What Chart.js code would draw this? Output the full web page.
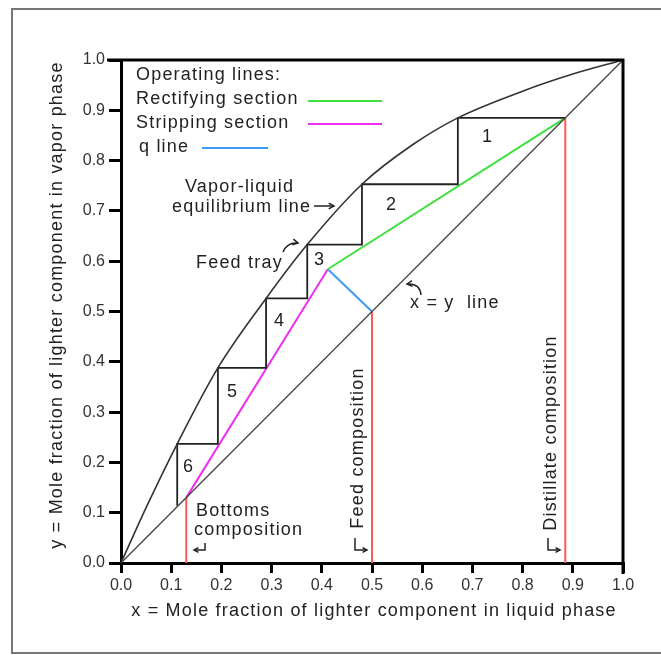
<!DOCTYPE html>
<html>
<head>
<meta charset="utf-8">
<script src="https://cdn.jsdelivr.net/npm/chart.js@4.4.1/dist/chart.umd.min.js"></script>
<style>
  html, body { margin: 0; padding: 0; background: #fff; }
  #wrap { width: 661px; height: 655px; }
</style>
</head>
<body>
<div id="wrap"><canvas id="myChart" width="661" height="655"></canvas></div>
<script>
// McCabe-Thiele diagram data (mole fractions)
const tickLabels = ['0.0', '0.1', '0.2', '0.3', '0.4', '0.5', '0.6', '0.7', '0.8', '0.9', '1.0'];

// vapor-liquid equilibrium curve
const eqX = [0, 0.05, 0.112, 0.193, 0.289, 0.371, 0.48, 0.58, 0.671, 0.8, 0.9, 1];
const eqY = [0, 0.11, 0.237, 0.388, 0.526, 0.633, 0.753, 0.831, 0.885, 0.938, 0.972, 1];

// x = y line
const diagX = [0, 1];
const diagY = [0, 1];

// compositions: bottoms, feed, distillate
const xBottoms = 0.13;
const xFeed = 0.5;
const xDistillate = 0.885;

// operating lines and q line (meet at the feed tray point)
const rectX = [0.412, 0.885];
const rectY = [0.584, 0.885];
const stripX = [0.13, 0.412];
const stripY = [0.13, 0.584];
const qX = [0.5, 0.412];
const qY = [0.5, 0.584];

// theoretical stages stepped off between the curve and the operating lines
const stepX = [0.885, 0.671, 0.671, 0.48, 0.48, 0.371, 0.371, 0.289, 0.289, 0.193, 0.193, 0.112, 0.112];
const stepY = [0.885, 0.885, 0.753, 0.753, 0.633, 0.633, 0.526, 0.526, 0.388, 0.388, 0.237, 0.237, 0.114];
const stageNames = ['1', '2', '3', '4', '5', '6'];

function pts(xs, ys) {
  return xs.map((x, i) => ({ x: x, y: ys[i] }));
}

function line(data, color, width, extra) {
  return Object.assign({
    data: data,
    showLine: true,
    borderColor: color,
    borderWidth: width,
    pointRadius: 0,
    fill: false
  }, extra || {});
}

const FONT = '"Liberation Sans", Arial, sans-serif';
const RED = '#ff5a5a';
const GREEN = '#3ee03e';
const MAGENTA = '#ee2ef0';
const BLUE = '#3c9cf5';

function arrowHead(ctx, x, y, angle, size) {
  ctx.beginPath();
  ctx.moveTo(x - size * Math.cos(angle - 0.5), y - size * Math.sin(angle - 0.5));
  ctx.lineTo(x, y);
  ctx.lineTo(x - size * Math.cos(angle + 0.5), y - size * Math.sin(angle + 0.5));
  ctx.stroke();
}

const notes = {
  id: 'notes',
  beforeDraw(chart) {
    const ctx = chart.ctx;
    ctx.save();
    ctx.fillStyle = '#fff';
    ctx.fillRect(0, 0, chart.width, chart.height);
    // outer frame
    ctx.strokeStyle = '#777';
    ctx.lineWidth = 2;
    ctx.strokeRect(12, 9, 700, 644);
    ctx.restore();
  },
  afterDraw(chart) {
    const ctx = chart.ctx;
    const a = chart.chartArea;
    ctx.save();
    // close the box on the top and right
    ctx.strokeStyle = '#000';
    ctx.lineWidth = 3;
    ctx.beginPath();
    ctx.moveTo(a.left - 14, a.top);
    ctx.lineTo(a.right, a.top);
    ctx.lineTo(a.right, a.bottom + 11);
    ctx.stroke();

    ctx.fillStyle = '#222';
    ctx.letterSpacing = '1.2px';
    ctx.font = '18px ' + FONT;
    ctx.textBaseline = 'middle';
    ctx.textAlign = 'left';

    // axis titles
    ctx.textAlign = 'center';
    ctx.fillText('x = Mole fraction of lighter component in liquid phase', 374, 611);
    ctx.save();
    ctx.translate(57, 305);
    ctx.rotate(-Math.PI / 2);
    ctx.fillText('y = Mole fraction of lighter component in vapor phase', 0, 0);
    ctx.restore();

    // legend
    ctx.textAlign = 'left';
    ctx.fillText('Operating lines:', 136, 75);
    ctx.fillText('Rectifying section', 136, 99);
    ctx.fillText('Stripping section', 136, 123);
    ctx.fillText('q line', 139, 147);
    ctx.lineWidth = 2;
    [[GREEN, 308, 382, 101], [MAGENTA, 308, 382, 124], [BLUE, 202, 268, 148]].forEach(l => {
      ctx.strokeStyle = l[0];
      ctx.beginPath();
      ctx.moveTo(l[1], l[3]);
      ctx.lineTo(l[2], l[3]);
      ctx.stroke();
    });

    // stage numbers
    const stagePos = [[487, 137], [391, 205], [319, 260], [279, 321], [232, 392], [188, 467]];
    stageNames.forEach((s, i) => ctx.fillText(s, stagePos[i][0] - 5, stagePos[i][1]));

    // text notes
    ctx.fillText('Vapor-liquid', 185, 187);
    ctx.fillText('equilibrium line', 172, 207);
    ctx.fillText('Feed tray', 196, 263);
    ctx.fillText('x = y  line', 410, 303);
    ctx.fillText('Bottoms', 196, 511);
    ctx.fillText('composition', 194, 530);

    ctx.save();
    ctx.translate(358, 448);
    ctx.rotate(-Math.PI / 2);
    ctx.textAlign = 'center';
    ctx.fillText('Feed composition', 0, 0);
    ctx.restore();
    ctx.save();
    ctx.translate(551, 433);
    ctx.rotate(-Math.PI / 2);
    ctx.textAlign = 'center';
    ctx.fillText('Distillate composition', 0, 0);
    ctx.restore();

    // arrows
    ctx.strokeStyle = '#222';
    ctx.lineWidth = 1.5;
    // equilibrium line arrow
    ctx.beginPath();
    ctx.moveTo(314, 206);
    ctx.lineTo(334, 206);
    ctx.stroke();
    arrowHead(ctx, 334, 206, 0, 6);
    // feed tray arrow
    ctx.beginPath();
    ctx.moveTo(283, 252);
    ctx.quadraticCurveTo(287, 242, 298, 243);
    ctx.stroke();
    arrowHead(ctx, 298, 243, 0.2, 6);
    // x = y line arrow
    ctx.beginPath();
    ctx.moveTo(421, 295);
    ctx.quadraticCurveTo(420, 283, 407, 284);
    ctx.stroke();
    arrowHead(ctx, 407, 284, Math.PI - 0.1, 6);
    // hooks pointing at the composition lines
    [[205, 194], [355, 367], [548, 560]].forEach((h, i) => {
      const y1 = i === 0 ? 543 : 538;
      ctx.beginPath();
      ctx.moveTo(h[0], y1);
      ctx.lineTo(h[0], 550);
      ctx.lineTo(h[1], 550);
      ctx.stroke();
      arrowHead(ctx, h[1], 550, h[1] > h[0] ? 0 : Math.PI, 5);
    });
    ctx.restore();
  }
};

const ctx = document.getElementById('myChart');
new Chart(ctx, {
  type: 'scatter',
  data: {
    datasets: [
      line(pts(diagX, diagY), '#444', 1.3),
      line(pts(eqX, eqY), '#333', 1.6, { cubicInterpolationMode: 'monotone' }),
      line([{ x: xBottoms, y: 0 }, { x: xBottoms, y: xBottoms }], RED, 2),
      line([{ x: xFeed, y: 0 }, { x: xFeed, y: xFeed }], RED, 2),
      line([{ x: xDistillate, y: 0 }, { x: xDistillate, y: xDistillate }], RED, 2),
      line(pts(stepX, stepY), '#222', 1.8),
      line(pts(rectX, rectY), GREEN, 2),
      line(pts(stripX, stripY), MAGENTA, 2),
      line(pts(qX, qY), BLUE, 2)
    ]
  },
  options: {
    responsive: false,
    animation: false,
    devicePixelRatio: 1,
    layout: { padding: { top: 60, right: 38, left: 0, bottom: 0 } },
    plugins: {
      legend: { display: false },
      tooltip: { enabled: false }
    },
    scales: {
      x: {
        type: 'linear',
        min: 0,
        max: 1,
        afterFit: s => { s.height = 92; },
        border: { display: true, color: '#000', width: 3 },
        grid: { drawOnChartArea: false, drawTicks: true, tickLength: 10, tickWidth: 3, tickColor: '#000', lineWidth: 3 },
        ticks: {
          stepSize: 0.1,
          padding: 3,
          maxRotation: 0,
          color: '#333',
          font: { family: 'Liberation Sans', size: 16 },
          callback: (v, i) => tickLabels[i]
        }
      },
      y: {
        type: 'linear',
        min: 0,
        max: 1,
        afterFit: s => { s.width = 121; },
        border: { display: true, color: '#000', width: 3 },
        grid: { drawOnChartArea: false, drawTicks: true, tickLength: 12, tickWidth: 3, tickColor: '#000', lineWidth: 3 },
        ticks: {
          stepSize: 0.1,
          padding: 4,
          color: '#333',
          font: { family: 'Liberation Sans', size: 16 },
          callback: (v, i) => tickLabels[i]
        }
      }
    }
  },
  plugins: [notes]
});
</script>
</body>
</html>
